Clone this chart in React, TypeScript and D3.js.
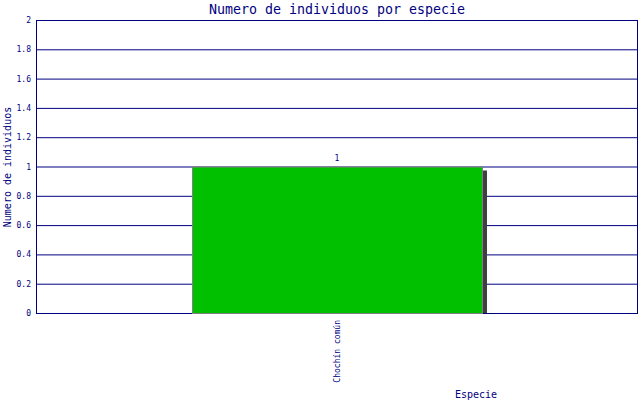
import * as d3 from "d3";

const categories = ["Chochín común"];
const counts = [1];
const yTicks = [0, 0.2, 0.4, 0.6, 0.8, 1, 1.2, 1.4, 1.6, 1.8, 2];

const W = 640;
const H = 400;
const margin = { top: 20, right: 2, bottom: 87, left: 36 };
const navy = "#000080";
const mono = "'DejaVu Sans Mono', monospace";

export default function App() {
    const x = d3
        .scaleBand<string>()
        .domain(categories)
        .range([margin.left, W - margin.right])
        .paddingInner(0)
        .paddingOuter(0.538);
    const y = d3
        .scaleLinear()
        .domain([0, 2])
        .range([H - margin.bottom, margin.top]);

    const fmt = (v: number) => d3.format("~g")(v);

    return (
        <svg
            width={W}
            height={H}
            style={{ position: "absolute", left: 0, top: 0, background: "#fff" }}
            fontFamily={mono}
        >
            {/* grid */}
            {yTicks.map((t) => (
                <g key={t}>
                    <line
                        x1={margin.left}
                        x2={W - margin.right}
                        y1={y(t) + 0.5}
                        y2={y(t) + 0.5}
                        stroke={navy}
                        strokeWidth={1}
                    />
                    <text
                        x={margin.left - 5}
                        y={y(t) + 3}
                        textAnchor="end"
                        fontSize={8}
                        fill={navy}
                    >
                        {fmt(t)}
                    </text>
                </g>
            ))}
            <line
                x1={margin.left + 0.5}
                x2={margin.left + 0.5}
                y1={margin.top}
                y2={H - margin.bottom + 1}
                stroke={navy}
            />
            <line
                x1={W - margin.right - 0.5}
                x2={W - margin.right - 0.5}
                y1={margin.top}
                y2={H - margin.bottom + 1}
                stroke={navy}
            />

            {/* bars */}
            {categories.map((c, i) => {
                const x0 = x(c)!;
                const bw = x.bandwidth();
                return (
                    <g key={c}>
                        <rect
                            x={x0 + bw}
                            y={y(counts[i]) + 4}
                            width={5}
                            height={y(0) - y(counts[i]) - 4}
                            fill="#404040"
                        />
                        <rect
                            x={x0 + 0.5}
                            y={y(counts[i]) + 0.5}
                            width={bw}
                            height={y(0) - y(counts[i])}
                            fill="#00c000"
                            stroke="#808080"
                            strokeWidth={1}
                        />
                        <text
                            x={x0 + bw / 2}
                            y={y(counts[i]) - 6}
                            textAnchor="middle"
                            fontSize={8}
                            fill={navy}
                        >
                            {counts[i]}
                        </text>
                        <text
                            transform={`translate(${x0 + bw / 2 + 3},${y(0) + 7}) rotate(-90)`}
                            textAnchor="end"
                            fontSize={8}
                            fill={navy}
                        >
                            {c}
                        </text>
                    </g>
                );
            })}

            {/* titles */}
            <text x={337} y={14} textAnchor="middle" fontSize={13.3} fill={navy}>
                Numero de individuos por especie
            </text>
            <text
                transform={`translate(11,167) rotate(-90)`}
                textAnchor="middle"
                fontSize={10}
                fill={navy}
            >
                Numero de individuos
            </text>
            <text x={476} y={398} textAnchor="middle" fontSize={10} fill={navy}>
                Especie
            </text>
        </svg>
    );
}
